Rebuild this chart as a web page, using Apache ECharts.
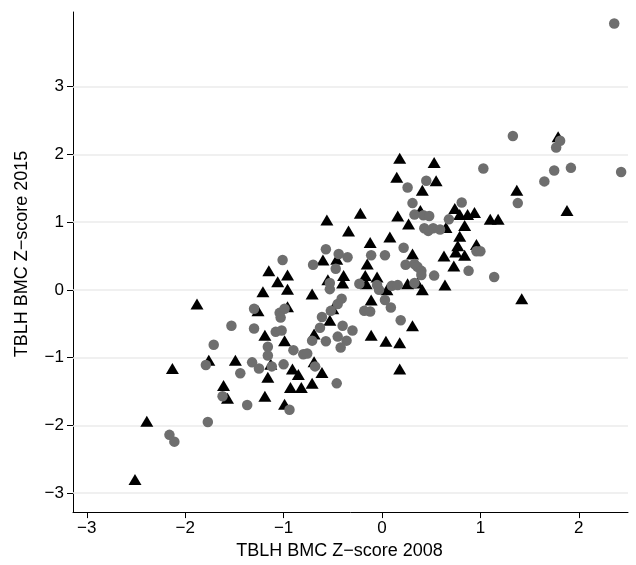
<!DOCTYPE html>
<html>
<head>
<meta charset="utf-8">
<script src="https://cdn.jsdelivr.net/npm/echarts@6/dist/echarts.min.js"></script>
<style>
html,body{margin:0;padding:0;background:#fff;}
#chart{width:636px;height:565px;}
</style>
</head>
<body>
<div id="chart"></div>
<script>
// Tick values
const xTicks = [-3, -2, -1, 0, 1, 2];
const yTicks = [-3, -2, -1, 0, 1, 2, 3];
const xTitle = 'TBLH BMC Z\u2212score 2008';
const yTitle = 'TBLH BMC Z\u2212score 2015';

// Series 1: black triangles
const triX = [-2.51,-2.39,-2.13,-1.88,-1.76,-1.61,-1.57,-1.49,-1.26,-1.21,-1.19,-1.19,-1.15,-1.13,-1.16,-1.06,-0.96,-0.96,-0.96,-0.99,-0.99,-0.91,-0.85,-0.93,-0.82,-0.71,-0.71,-0.69,-0.69,-0.61,-0.60,-0.56,-0.55,-0.53,-0.50,-0.46,-0.40,-0.39,-0.34,-0.22,-0.17,-0.16,-0.15,-0.12,-0.11,-0.11,-0.05,0.05,0.04,0.18,0.18,0.08,0.16,0.15,0.18,0.27,0.31,0.26,0.36,0.41,0.31,0.39,0.41,0.53,0.55,0.64,0.65,0.73,0.74,0.75,0.77,0.79,0.79,0.84,0.84,0.87,0.94,0.63,0.96,1.10,1.18,1.37,1.42,1.79,1.88];
const triY = [-2.80,-1.94,-1.16,-0.21,-1.04,-1.41,-1.60,-1.04,-0.31,-0.03,-0.67,-1.57,0.28,-1.10,-1.29,0.12,0.22,0.01,-0.25,-0.75,-1.69,-1.17,-1.25,-1.44,-1.44,-1.38,-0.06,-0.65,-1.06,-1.22,0.44,1.03,0.15,-0.45,-0.28,0.45,0.10,0.21,0.87,1.13,0.21,0.09,0.38,0.70,-0.15,-0.67,0.19,0.00,-0.76,-0.78,-1.17,0.78,1.09,1.66,1.94,0.97,0.53,0.09,0.10,0.00,-0.53,1.17,1.47,1.88,1.61,0.07,0.92,0.35,1.20,0.56,0.65,1.11,0.79,0.95,0.51,1.11,1.14,0.50,0.67,1.04,1.04,1.47,-0.13,2.26,1.17];

// Series 2: grey circles
const circX = [2.36,1.33,1.81,1.77,1.75,1.92,2.43,1.65,1.38,1.14,1.03,0.45,0.26,0.81,0.31,0.33,0.42,0.48,0.68,0.43,0.52,0.59,0.47,0.96,1.00,0.22,0.03,-0.11,-0.35,-0.44,-0.57,-0.70,-1.01,-0.47,0.24,0.33,0.36,0.40,0.40,0.88,0.53,-0.53,-0.53,-0.23,-0.05,-0.03,0.10,0.16,0.33,-0.41,-0.45,0.03,0.09,-0.18,-0.12,-0.52,-0.61,0.19,-0.63,-0.40,-0.30,-0.45,-0.36,-0.42,-0.71,-0.57,-0.80,-0.76,-0.68,-0.46,-1.30,-1.04,-0.99,-1.03,-1.53,-1.30,-1.08,-1.02,-1.71,-1.16,-1.16,-0.90,-1.79,-1.32,-1.25,-1.44,-1.12,-1.00,-1.62,-1.37,-0.94,-1.77,-2.16,-2.11];
const circY = [3.93,2.27,2.20,2.10,1.76,1.80,1.74,1.60,1.28,0.19,1.79,1.61,1.51,1.29,1.28,1.11,1.10,1.09,1.04,0.91,0.91,0.89,0.87,0.57,0.57,0.62,0.51,0.51,0.48,0.53,0.60,0.37,0.44,0.31,0.37,0.38,0.34,0.28,0.22,0.28,0.21,0.10,0.01,0.09,0.07,0.00,0.06,0.07,0.10,-0.13,-0.21,-0.15,-0.26,-0.31,-0.32,-0.31,-0.40,-0.45,-0.56,-0.53,-0.60,-0.69,-0.75,-0.85,-0.75,-0.76,-0.95,-0.94,-1.13,-1.38,-0.28,-0.34,-0.28,-0.41,-0.53,-0.57,-0.62,-0.60,-0.81,-0.84,-0.97,-0.89,-1.11,-1.07,-1.16,-1.23,-1.13,-1.10,-1.57,-1.70,-1.77,-1.95,-2.14,-2.24];

const triData = triX.map((x, i) => [x, triY[i]]);
const circData = circX.map((x, i) => [x, circY[i]]);
const fmt = v => String(v).replace('-', '\u2212');
const FONT = '"Liberation Sans", Arial, Helvetica, sans-serif';

const chart = echarts.init(document.getElementById('chart'), null, {renderer: 'canvas'});
chart.setOption({
  animation: false,
  backgroundColor: '#ffffff',
  grid: {left: 73, right: 8, top: 12, bottom: 49, containLabel: false},
  xAxis: {
    type: 'value', min: -3.14, max: 2.50,
    name: xTitle, nameLocation: 'middle', nameGap: 26,
    nameTextStyle: {fontFamily: FONT, fontSize: 18, color: '#000', padding: [0, 22, 0, 0]},
    axisLine: {show: true, onZero: false, lineStyle: {color: '#000', width: 1}},
    axisTick: {show: true, customValues: xTicks, length: 6, inside: false, lineStyle: {color: '#000', width: 1}},
    axisLabel: {customValues: xTicks, formatter: fmt, fontFamily: FONT, fontSize: 17, color: '#000', margin: 8},
    splitLine: {show: false}
  },
  yAxis: {
    type: 'value', min: -3.28, max: 4.10,
    name: yTitle, nameLocation: 'middle', nameGap: 42,
    nameTextStyle: {fontFamily: FONT, fontSize: 18, color: '#000', padding: [0, 0, 0, 16]},
    axisLine: {show: true, onZero: false, lineStyle: {color: '#000', width: 1}},
    axisTick: {show: true, customValues: yTicks, length: 6, inside: false, lineStyle: {color: '#000', width: 1}},
    axisLabel: {customValues: yTicks, formatter: fmt, fontFamily: FONT, fontSize: 17, color: '#000', margin: 9},
    splitLine: {show: false}
  },
  series: [
    {
      type: 'scatter', data: [], silent: true,
      markLine: {
        z: 1, silent: true, symbol: ['none', 'none'], animation: false,
        label: {show: false},
        lineStyle: {color: '#ebebeb', width: 1.5, type: 'solid'},
        data: yTicks.map(v => ({yAxis: v}))
      }
    },
    {
      name: 'triangles', type: 'scatter', z: 3,
      symbol: 'triangle', symbolSize: [13, 11],
      itemStyle: {color: '#000000', opacity: 1},
      data: triData
    },
    {
      name: 'circles', type: 'scatter', z: 4,
      symbol: 'circle', symbolSize: 10.5,
      itemStyle: {color: '#6e6e6e', opacity: 1},
      data: circData
    }
  ]
});
</script>
</body>
</html>
